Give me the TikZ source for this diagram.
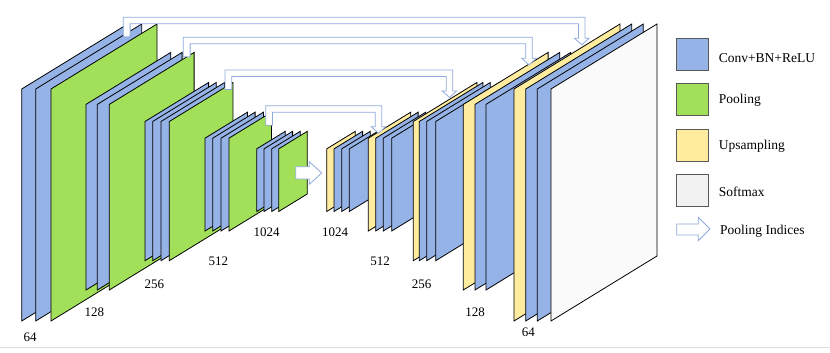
\documentclass[tikz,border=0pt]{standalone}
\usepackage{fontspec}
\setmainfont{Liberation Serif}
\usepackage{tikz}
\usetikzlibrary{positioning}

\definecolor{convblue}{HTML}{95B3E6}
\definecolor{poolgreen}{HTML}{A2E05A}
\definecolor{upyellow}{HTML}{FFEC9E}
\definecolor{softgray}{HTML}{F2F2F2}
\definecolor{idxblue}{HTML}{8FAADC}

% one feature map: colour, left x, bottom y, scale
\newcommand{\fmap}[4]{\filldraw[#1] (#2,#3) -- ++({106*#4},{-65*#4}) -- ++(0,{-232*#4}) -- ++({-106*#4},{65*#4}) -- cycle;}
% pooling indices: left x, top y, right x
\newcommand{\poolidx}[3]{\filldraw[idxarrow] (#1,{#2+19.5}) -- (#1,#2) -- (#3,#2) -- (#3,{#2+21}) -- ({#3+4},{#2+21}) -- ({#3-3.2},{#2+27.5}) -- ({#3-10.5},{#2+21}) -- ({#3-6.5},{#2+21}) -- ({#3-6.5},{#2+6.5}) -- ({#1+6.8},{#2+6.5}) -- ({#1+6.8},{#2+19.5}) -- cycle;}

\begin{document}
\begin{tikzpicture}[x=1pt,y=-1pt,line join=miter,
	conv/.style={fill=convblue,draw=black,line width=0.8pt},
	pool/.style={fill=poolgreen,draw=black,line width=0.8pt},
	upsamp/.style={fill=upyellow,draw=black,line width=0.8pt},
	softmax/.style={fill=white!98!black,draw=black,line width=0.8pt},
	idxarrow/.style={fill=white,draw=idxblue,line width=0.8pt},
	legbox/.style={draw=black!65,line width=0.8pt,minimum width=32pt,minimum height=32pt,inner sep=0pt},
	legtext/.style={inner sep=0pt,anchor=west,font=\fontsize{13.5}{15}\selectfont},
	font=\fontsize{13}{15}\selectfont]
	\useasboundingbox (0,0) rectangle (830,353);
	\draw[black!12] (0,347) -- (830,347);

	% encoder
	\foreach \x in {21.7,35.7} {\fmap{conv}{\x}{321}{1}}
	\fmap{pool}{51}{321}{1}
	\foreach \x in {86,97.3} {\fmap{conv}{\x}{290}{0.8}}
	\fmap{pool}{109.3}{290}{0.8}
	\foreach \x in {145,152.7,161} {\fmap{conv}{\x}{260.7}{0.6}}
	\fmap{pool}{169.3}{260.7}{0.6}
	\foreach \x in {205,212.7,221} {\fmap{conv}{\x}{231}{0.4}}
	\fmap{pool}{229}{231}{0.4}
	\foreach \x in {256.7,264,271.7} {\fmap{conv}{\x}{211.5}{0.27}}
	\fmap{pool}{278.7}{211.5}{0.27}

	% decoder
	\fmap{upsamp}{326.7}{211.5}{0.27}
	\foreach \x in {334,341.7,349.3} {\fmap{conv}{\x}{211.5}{0.27}}
	\fmap{upsamp}{368.3}{231}{0.4}
	\foreach \x in {375.7,383.3,391.7} {\fmap{conv}{\x}{231}{0.4}}
	\fmap{upsamp}{413.3}{260.7}{0.6}
	\foreach \x in {419.3,426.7,435.7} {\fmap{conv}{\x}{260.7}{0.6}}
	\fmap{upsamp}{463.3}{290}{0.8}
	\foreach \x in {475,486} {\fmap{conv}{\x}{290}{0.8}}
	\fmap{upsamp}{514}{321}{1}
	\foreach \x in {525.7,537.3} {\fmap{conv}{\x}{321}{1}}
	\fmap{softmax}{551}{321}{1}

	% middle arrow
	\filldraw[idxarrow] (295.7,166.7) -- (309.3,166.7) -- (309.3,161.7) -- (321.7,173) -- (309.3,184.3) -- (309.3,179) -- (295.7,179) -- cycle;

	% pooling indices
	\poolidx{123.3}{17.3}{585}
	\poolidx{183.3}{37.3}{532.3}
	\poolidx{225}{70}{452.7}
	\poolidx{265.7}{105.7}{381.7}

	% channel numbers
	\node (e64) at (30,337) {64};
	\node (e128) at (94.3,312) {128};
	\node (e256) at (154.3,284) {256};
	\node (e512) at (218.3,261) {512};
	\node (e1024) at (266.7,232) {1024};
	\node (d1024) at (335,232) {1024};
	\node (d512) at (380,261) {512};
	\node (d256) at (421.7,284) {256};
	\node (d128) at (475,312) {128};
	\node (d64) at (528.3,332) {64};

	% legend
	\node[legbox,fill=convblue] (lconv) at (692.2,54.2) {};
	\node[legbox,fill=poolgreen] (lpool) at (692.2,99.5) {};
	\node[legbox,fill=upyellow] (lup) at (692.2,145.5) {};
	\node[legbox,fill=softgray] (lsoft) at (692.2,190.3) {};
	\node[legtext,right=10pt of lconv,yshift=-4pt] (tconv) {Conv+BN+ReLU};
	\node[legtext,right=10pt of lpool,yshift=-1pt] (tpool) {Pooling};
	\node[legtext,right=10pt of lup,yshift=-1pt] (tup) {Upsampling};
	\node[legtext,right=10pt of lsoft,yshift=-1.5pt] (tsoft) {Softmax};
	\filldraw[idxarrow] (676.7,224) -- (698.3,224) -- (698.3,217.3) -- (710,229) -- (698.3,240.7) -- (698.3,235) -- (676.7,235) -- cycle;
	\node[legtext] (tidx) at (720,231) {Pooling Indices};
\end{tikzpicture}
\end{document}
